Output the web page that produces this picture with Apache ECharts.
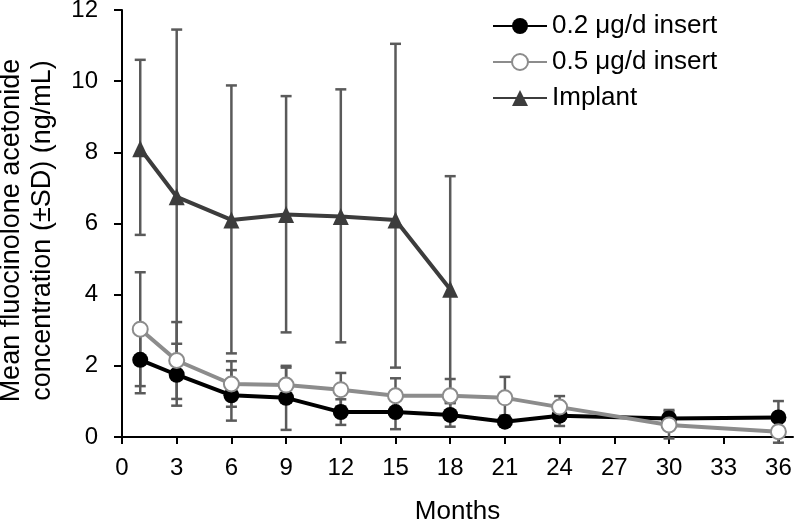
<!DOCTYPE html>
<html>
<head>
<meta charset="utf-8">
<script src="https://cdn.jsdelivr.net/npm/echarts@6/dist/echarts.min.js"></script>
<style>
html,body{margin:0;padding:0;background:#fff;}
#chart{width:794px;height:523px;}
</style>
</head>
<body>
<div id="chart"></div>
<script>
// ---- data ----
const xTicks = [0, 3, 6, 9, 12, 15, 18, 21, 24, 27, 30, 33, 36];
const yTicks = [0, 2, 4, 6, 8, 10, 12];

const monthsInsert = [1, 3, 6, 9, 12, 15, 18, 21, 24, 30, 36];
const mean02 = [2.17, 1.75, 1.17, 1.1, 0.7, 0.7, 0.62, 0.43, 0.6, 0.52, 0.55];
const upper02 = [3.1, 2.62, 1.88, 2.0, 1.06, 1.18, 0.95, 0.6, 0.84, 0.76, 1.01];
const lower02 = [1.23, 0.88, 0.46, 0.2, 0.34, 0.22, 0.29, 0.3, 0.31, 0.28, 0.09];

const mean05 = [3.03, 2.15, 1.49, 1.46, 1.33, 1.16, 1.16, 1.1, 0.84, 0.34, 0.15];
const upper05 = [4.63, 3.23, 2.13, 1.95, 1.8, 1.65, 1.63, 1.69, 1.15, 0.72, 0.46];
const lower05 = [1.43, 1.07, 0.85, 0.97, 0.86, 0.67, 0.69, 0.53, 0.55, -0.04, -0.16];

const monthsImplant = [1, 3, 6, 9, 12, 15, 18];
const meanImp = [8.1, 6.75, 6.1, 6.25, 6.2, 6.1, 4.15];
const upperImp = [10.6, 11.45, 9.88, 9.58, 9.77, 11.05, 7.33];
const lowerImp = [5.68, 2.05, 2.35, 2.94, 2.66, 1.95, 0.97];

const seriesNames = ['0.2 μg/d insert', '0.5 μg/d insert', 'Implant'];

// ---- build ----
const FONT = "'Liberation Sans', Arial, sans-serif";
const zip2 = (xs, ys) => xs.map((x, i) => [x, ys[i]]);
const zip3 = (xs, a, b) => xs.map((x, i) => [x, a[i], b[i]]);

const errColor = '#5a5a5a';
function errRender(params, api) {
  const x = api.value(0), lo = api.value(1), hi = api.value(2);
  const pLo = api.coord([x, lo]);
  const pHi = api.coord([x, hi]);
  const hw = 5.5;
  const st = { stroke: errColor, lineWidth: 2.5 };
  return {
    type: 'group',
    children: [
      { type: 'line', shape: { x1: pLo[0], y1: pLo[1], x2: pHi[0], y2: pHi[1] }, style: st },
      { type: 'line', shape: { x1: pHi[0] - hw, y1: pHi[1], x2: pHi[0] + hw, y2: pHi[1] }, style: st },
      { type: 'line', shape: { x1: pLo[0] - hw, y1: pLo[1], x2: pLo[0] + hw, y2: pLo[1] }, style: st }
    ]
  };
}
function errSeries(data) {
  return {
    type: 'custom', renderItem: errRender, data: data, z: 1, silent: true,
    encode: { x: 0, y: [1, 2] }, clip: false
  };
}

const chart = echarts.init(document.getElementById('chart'), null, { renderer: 'canvas' });
chart.setOption({
  animation: false,
  backgroundColor: '#ffffff',
  textStyle: { fontFamily: FONT },
  grid: { left: 122, right: 1, top: 10, bottom: 86, containLabel: false, outerBoundsMode: 'none' },
  legend: {
    data: seriesNames,
    orient: 'vertical',
    left: 492, top: 12, padding: 0,
    itemWidth: 54, itemHeight: 20, itemGap: 8,
    textStyle: { fontSize: 26, color: '#000', fontFamily: FONT, lineHeight: 28 }
  },
  xAxis: {
    type: 'value', min: 0, max: 36.8, interval: 3,
    name: 'Months', nameLocation: 'middle', nameGap: 62,
    nameTextStyle: { fontSize: 26, color: '#000', fontFamily: FONT },
    axisLine: { lineStyle: { color: '#000', width: 2 } },
    axisTick: { show: true, inside: false, length: 7, lineStyle: { color: '#000', width: 2 }, customValues: xTicks },
    axisLabel: { fontSize: 24, color: '#000', margin: 19, fontFamily: FONT, customValues: xTicks },
    splitLine: { show: false }
  },
  yAxis: {
    type: 'value', min: 0, max: 12, interval: 2,
    name: 'Mean fluocinolone acetonide\nconcentration (±SD) (ng/mL)',
    nameLocation: 'middle', nameGap: 64,
    nameTextStyle: { fontSize: 27, color: '#000', fontFamily: FONT, lineHeight: 31, padding: [0, 14, 0, 0] },
    axisLine: { show: true, lineStyle: { color: '#000', width: 2 } },
    axisTick: { show: true, inside: false, length: 8, lineStyle: { color: '#000', width: 2 }, customValues: yTicks },
    axisLabel: { fontSize: 24, color: '#000', margin: 24, fontFamily: FONT, customValues: yTicks },
    splitLine: { show: false }
  },
  series: [
    errSeries(zip3(monthsImplant, lowerImp, upperImp)),
    errSeries(zip3(monthsInsert, lower02, upper02)),
    errSeries(zip3(monthsInsert, lower05, upper05)),
    {
      name: seriesNames[0], type: 'line', data: zip2(monthsInsert, mean02), z: 3,
      symbol: 'circle', symbolSize: 16,
      lineStyle: { color: '#000', width: 4 },
      itemStyle: { color: '#000' }
    },
    {
      name: seriesNames[1], type: 'line', data: zip2(monthsInsert, mean05), z: 4,
      symbol: 'emptyCircle', symbolSize: 15,
      lineStyle: { color: '#8c8c8c', width: 4 },
      itemStyle: { color: '#8c8c8c', borderColor: '#8c8c8c', borderWidth: 2.5 }
    },
    {
      name: seriesNames[2], type: 'line', data: zip2(monthsImplant, meanImp), z: 5,
      symbol: 'triangle', symbolSize: [16, 17],
      lineStyle: { color: '#3c3c3c', width: 4 },
      itemStyle: { color: '#3c3c3c' }
    }
  ]
});
</script>
</body>
</html>
